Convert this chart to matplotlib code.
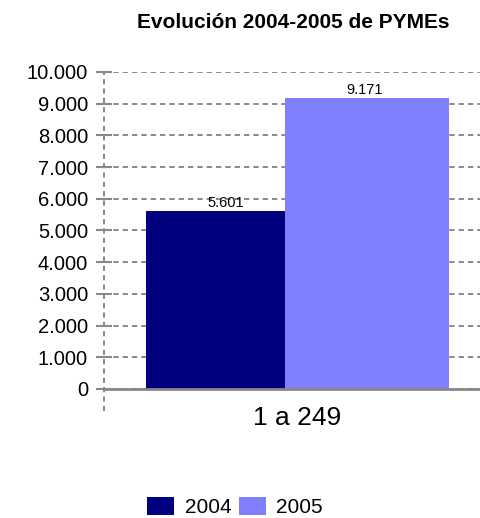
import matplotlib
matplotlib.use("Agg")
import matplotlib.pyplot as plt
from matplotlib.patches import Patch

plt.rcParams['font.family'] = ['Liberation Sans', 'DejaVu Sans']

title = "Evolución 2004-2005 de PYMEs"
category = "1 a 249"
series = ["2004", "2005"]
values = [5601, 9171]
value_labels = ["5.601", "9.171"]
yticks = [0, 1000, 2000, 3000, 4000, 5000, 6000, 7000, 8000, 9000, 10000]
ytick_labels = ["0", "1.000", "2.000", "3.000", "4.000", "5.000",
                "6.000", "7.000", "8.000", "9.000", "10.000"]
colors = ["#000080", "#8080ff"]

W, H = 480, 518
fig = plt.figure(figsize=(W / 100, H / 100), dpi=100)
ax = fig.add_axes([104 / W, (H - 389) / H, (490 - 104) / W, (389 - 72) / H])

grid_color = "#888888"
dash = (0, (2.7, 2.1))
glw = 1.4

# bars (unequal widths as in reference)
starts = [-0.391, -0.031]
widths = [0.360, 0.425]
label_offsets = [0.027, -0.006]
for s, w, v, c, lab, off in zip(starts, widths, values, colors, value_labels, label_offsets):
    ax.bar(s, v, width=w, align='edge', color=c, zorder=3)
    ax.text(s + w / 2 + off, v + 50, lab, ha='center', va='bottom', fontsize=10.5, zorder=4)

ax.set_xlim(-0.5, 0.5)
ax.set_ylim(0, 10000)
ax.set_yticks(yticks)
ax.set_yticklabels(ytick_labels, fontsize=14.5)
ax.set_xticks([0])
ax.set_xticklabels([category], fontsize=19)

ax.yaxis.grid(True, color=grid_color, linestyle=dash, linewidth=glw, zorder=0)
ax.set_axisbelow(True)
ax.tick_params(axis='y', direction='inout', length=11, width=1.5, color=grid_color, pad=6)
ax.tick_params(axis='x', length=0, pad=12)

for sp in ['top', 'right', 'left']:
    ax.spines[sp].set_visible(False)
ax.spines['bottom'].set_color(grid_color)
ax.spines['bottom'].set_linewidth(2)
ax.spines['bottom'].set_zorder(5)

ax.axvline(-0.5, ymin=-0.07, ymax=1, color=grid_color, linestyle=dash,
           linewidth=glw, clip_on=False, zorder=1)

fig.text(293.5 / W, 1 - 23 / H, title, ha='center', va='center', fontsize=15, fontweight='bold')

handles = [Patch(facecolor=c, edgecolor='none') for c in colors]
fig.legend(handles, series, loc='center', bbox_to_anchor=(235 / W, 1 - 507 / H),
           ncol=2, frameon=False, fontsize=15, handlelength=1.3, handleheight=0.95,
           handletextpad=0.5, columnspacing=0.35, borderpad=0, borderaxespad=0)

fig.savefig("out.png", dpi=100)
